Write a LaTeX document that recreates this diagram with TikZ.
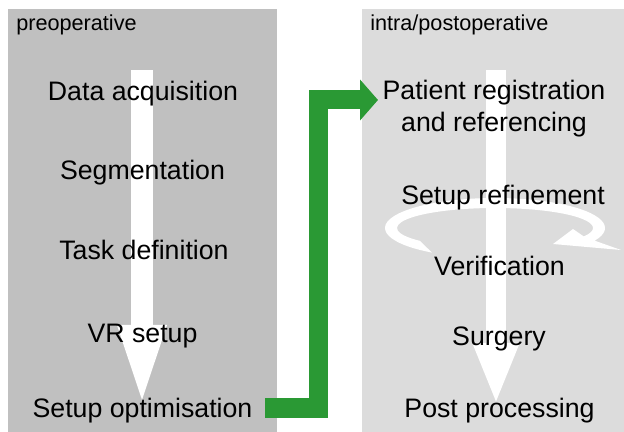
\documentclass[tikz,border=0pt]{standalone}
\usepackage{fontspec}
\setmainfont{Liberation Sans}
\usetikzlibrary{arrows.meta}
\definecolor{preogray}{RGB}{192,192,192}
\definecolor{intragray}{RGB}{220,220,220}
\definecolor{handgreen}{RGB}{42,153,52}
\tikzset{phase/.style={font=\fontsize{15.4}{18}\selectfont, inner sep=0pt, anchor=base west}}
\tikzset{stage/.style={font=\fontsize{19}{20}\selectfont, inner sep=0pt, anchor=base}}
\tikzset{flow/.style={draw=white, line width=0.52cm}}
\tikzset{loopback/.style={fill=white, draw=none}}
\tikzset{line/.style={draw=handgreen, line width=0.475cm, -{Triangle[width=1cm,length=0.45cm]}}}

\begin{document}
\begin{tikzpicture}[x=0.025cm, y=-0.025cm]
        \useasboundingbox (0,0) rectangle (624,432);
        \fill[white] (0,0) rectangle (624,432);
        \fill[preogray] (8,9) rectangle (277,432);
        \fill[intragray] (362,9) rectangle (624,432);

        \coordinate (pretop) at (142,70);
        \coordinate (pretip) at (142,411);
        \coordinate (intratop) at (496,70);
        \coordinate (intratip) at (496,405);
        \coordinate (loop) at (495,228);
        \path[flow, line width=0.525cm, -{Triangle[width=1.05cm,length=2.15cm]}] (pretop) -- (pretip);
        \path[flow, line width=0.5cm, -{Triangle[width=1.05cm,length=1.55cm]}] (intratop) -- (intratip);
        \path[loopback] (loop) ++(125:110 and 30) arc[start angle=125, end angle=385, x radius=110, y radius=30]
            -- (621,250) -- (553,244) -- (573,229) -- (583.82,236.45)
            arc[start angle=385, end angle=140, x radius=98, y radius=20] -- cycle;

        \node[phase] (preop) at (16,31) {preoperative};
        \node[phase] (intraop) at (370,31) {intra/postoperative};

        \node[stage] (acq) at (143,101) {Data acquisition};
        \node[stage] (seg) at (142.5,179.5) {Segmentation};
        \node[stage] (task) at (144,260) {Task definition};
        \node[stage] (vrset) at (142.5,342) {VR setup};
        \node[stage] (setopt) at (142.5,417) {Setup optimisation};

        \node[stage, anchor=north, align=center, font=\fontsize{19}{23}\selectfont] (patreg) at (494,80) {Patient registration\\and referencing};
        \node[stage] (refine) at (503,204.5) {Setup refinement};
        \node[stage] (verif) at (499.5,275.5) {Verification};
        \node[stage] (surg) at (499,345.5) {Surgery};
        \node[stage] (postp) at (499.5,417) {Post processing};

        \coordinate (gstart) at (265,408);
        \coordinate (gend) at (378,100);
        \path[line] (gstart) -- ++(53,0) |- (gend);
\end{tikzpicture}
\end{document}
